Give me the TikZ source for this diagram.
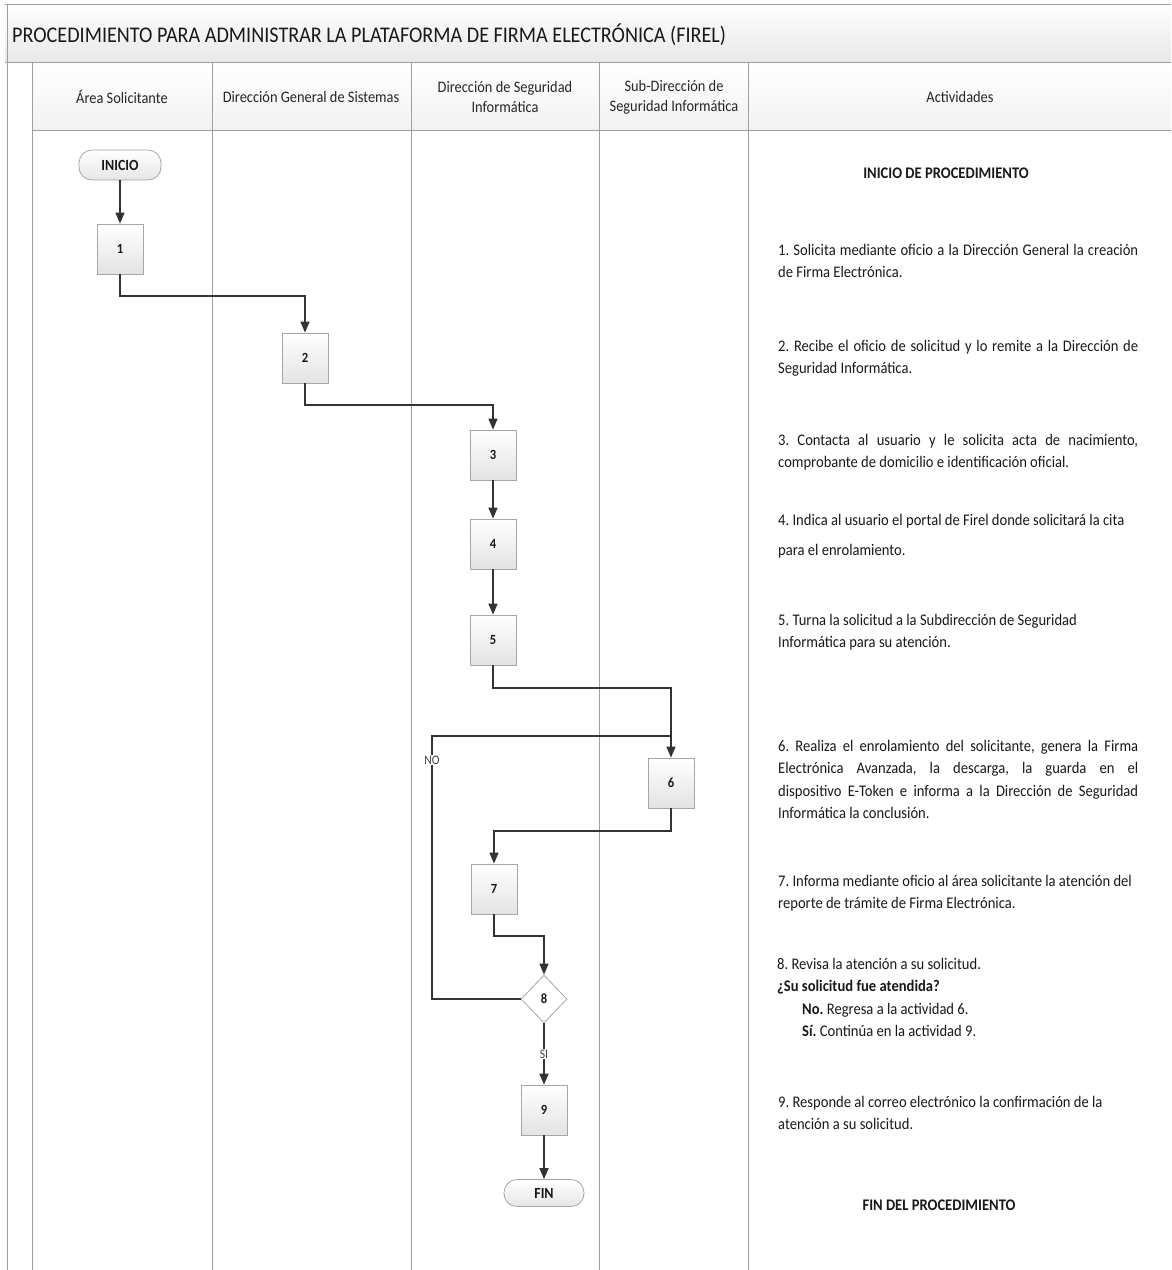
\documentclass[tikz,border=0pt]{standalone}
\usepackage{fontspec}
\setmainfont{Carlito}[FakeStretch=0.9]
\usetikzlibrary{arrows.meta,shapes.geometric,calc}
\newcommand{\jline}[1]{\makebox[360pt][s]{#1}}
\begin{document}
\frenchspacing
\begin{tikzpicture}[x=1pt,y=-1pt,
  conn/.style={draw=black!80, line width=1.5pt, -{Triangle[width=9pt,length=11pt]}},
  link/.style={draw=black!80, line width=1.5pt},
  stepbox/.style={draw=gray!70, line width=0.8pt, top color=white, bottom color=gray!22, minimum width=46pt, minimum height=50pt, inner sep=0pt, font=\fontsize{14}{16}\selectfont\bfseries, text=black!90},
  term/.style={draw=gray!70, line width=0.8pt, rounded corners=13pt, top color=white, bottom color=gray!20, inner sep=0pt, font=\fontsize{15.5}{17}\selectfont\bfseries, text=black!90},
  decis/.style={diamond, draw=gray!70, line width=0.8pt, fill=white, minimum width=46pt, minimum height=48pt, inner sep=0pt, font=\fontsize{14}{16}\selectfont\bfseries, text=black!90},
  lbl/.style={font=\fontsize{13}{14}\selectfont, text=black!75, fill=white, inner sep=1pt},
  act/.style={anchor=base west, text width=375pt, align=justify, inner sep=0pt, font=\fontsize{16.2}{22.5}\selectfont, text=black!90},
  hdr/.style={font=\fontsize{16}{20}\selectfont, text=black!85, align=center},
  grid/.style={draw=gray!75, line width=0.9pt}
]
\useasboundingbox (0,0) rectangle (1171,1270);
% bands
\path[top color=white, bottom color=gray!18] (5,4) rectangle (1171,62);
\path[top color=white, bottom color=gray!10] (32,62) rectangle (1171,130);
% grid
\draw[grid] (5,4) -- (1171,4);
\draw[grid] (5,62) -- (1171,62);
\draw[grid] (32,130) -- (1171,130);
\draw[grid] (7,4) -- (7,1270);
\draw[grid] (32,62) -- (32,1270);
\draw[grid] (212,62) -- (212,1270);
\draw[grid] (411,62) -- (411,1270);
\draw[grid] (599,62) -- (599,1270);
\draw[grid] (748,62) -- (748,1270);
% title and headers
\node[anchor=west, inner sep=0pt, font=\fontsize{22.4}{26}\selectfont, text=black!90] (title) at (12,35) {PROCEDIMIENTO PARA ADMINISTRAR LA PLATAFORMA DE FIRMA ELECTRÓNICA (FIREL)};
\node[hdr] (h1) at (122,97) {Área Solicitante};
\node[hdr] (h2) at (311,97) {Dirección General de Sistemas};
\node[hdr] (h3) at (505,97) {Dirección de Seguridad\\Informática};
\node[hdr] (h4) at (674,97) {Sub-Dirección de\\Seguridad Informática};
\node[hdr] (h5) at (960,97) {Actividades};
% flow nodes
\node[term, minimum width=82pt, minimum height=30pt] (ini) at (120,165) {INICIO};
\node[stepbox] (s1) at (120,249) {1};
\node[stepbox] (s2) at (305,358) {2};
\node[stepbox] (s3) at (493,455) {3};
\node[stepbox] (s4) at (493,544) {4};
\node[stepbox] (s5) at (493,640) {5};
\node[stepbox] (s6) at (671,783) {6};
\node[stepbox] (s7) at (494,889) {7};
\node[decis] (d8) at (544,999) {8};
\node[stepbox] (s9) at (544,1110) {9};
\node[term, minimum width=80pt, minimum height=27pt] (fin) at (544,1193) {FIN};
% connectors
\draw[conn] (ini) -- (s1);
\draw[conn] (s1.south) -- (s1.south |- 0,296) -| (s2.north);
\draw[conn] (s2.south) -- (s2.south |- 0,405) -| (s3.north);
\draw[conn] (s3) -- (s4);
\draw[conn] (s4) -- (s5);
\draw[conn] (s5.south) -- (s5.south |- 0,688) -| (s6.north);
\coordinate (nocorner) at (432,736);
\draw[link] (d8.west) -| (nocorner) -- (s6.north |- nocorner);
\node[lbl] (nolbl) at (432,760) {NO};
\draw[conn] (s6.south) -- (s6.south |- 0,831) -| (s7.north);
\draw[conn] (s7.south) -- (s7.south |- 0,936) -| (d8.north);
\draw[conn] (d8.south) -- node[lbl] (silbl) {SI} (s9.north);
\draw[conn] (s9) -- (fin);
% activities
\node[anchor=base, inner sep=0pt, font=\fontsize{16.2}{18}\selectfont\bfseries, text=black!90] (ip) at (946,178) {INICIO DE PROCEDIMIENTO};
\node[act] (a1) at (778,255) {\jline{1. Solicita mediante oficio a la Dirección General la creación}\\de Firma Electrónica.};
\node[act] (a2) at (778,351) {\jline{2. Recibe el oficio de solicitud y lo remite a la Dirección de}\\Seguridad Informática.};
\node[act] (a3) at (778,445) {\jline{3. Contacta al usuario y le solicita acta de nacimiento,}\\comprobante de domicilio e identificación oficial.};
\node[act] (a4) at (778,525) {4. Indica al usuario el portal de Firel donde solicitará la cita\\[7.5pt]para el enrolamiento.};
\node[act] (a5) at (778,625) {5. Turna la solicitud a la Subdirección de Seguridad\\Informática para su atención.};
\node[act] (a6) at (778,751) {\jline{6. Realiza el enrolamiento del solicitante, genera la Firma}\\\jline{Electrónica Avanzada, la descarga, la guarda en el}\\\jline{dispositivo E-Token e informa a la Dirección de Seguridad}\\Informática la conclusión.};
\node[act] (a7) at (778,886) {7. Informa mediante oficio al área solicitante la atención del\\reporte de trámite de Firma Electrónica.};
\node[act] (a8) at (777,969) {8. Revisa la atención a su solicitud.\\\textbf{¿Su solicitud fue atendida?}\\\hspace*{25pt}\textbf{No.} Regresa a la actividad 6.\\\hspace*{25pt}\textbf{Sí.} Continúa en la actividad 9.};
\node[act] (a9) at (778,1107) {9. Responde al correo electrónico la confirmación de la\\atención a su solicitud.};
\node[anchor=base, inner sep=0pt, font=\fontsize{16.2}{18}\selectfont\bfseries, text=black!90] (fp) at (939,1210) {FIN DEL PROCEDIMIENTO};
\end{tikzpicture}
\end{document}
